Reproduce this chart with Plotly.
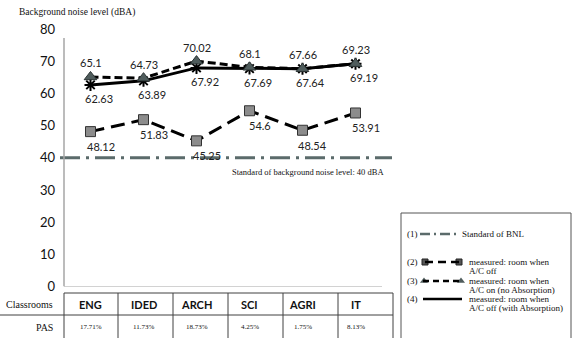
import plotly.graph_objects as go

W, H = 574, 338

# ---------------- data ----------------
categories = ["ENG", "IDED", "ARCH", "SCI", "AGRI", "IT"]
ac_off = [48.12, 51.83, 45.25, 54.6, 48.54, 53.91]              # (2) A/C off
ac_on_no_abs = [65.1, 64.73, 70.02, 68.1, 67.66, 69.23]         # (3) A/C on, no absorption
ac_off_with_abs = [62.63, 63.89, 67.92, 67.69, 67.64, 69.19]    # (4) with absorption
pas = ["17.71%", "11.73%", "18.73%", "4.25%", "1.75%", "8.13%"]
standard_bnl = 40
y_ticks = [0, 10, 20, 30, 40, 50, 60, 70, 80]


def px(x):
    return x / W


def py(y):
    return 1 - y / H


SANS = "Lato, 'Liberation Sans', Arial, sans-serif"
SERIF = "'Liberation Serif', 'Times New Roman', serif"

fig = go.Figure()

# (2) A/C off
fig.add_trace(go.Scatter(
    x=categories, y=ac_off, mode="lines+markers",
    line=dict(color="black", width=3, dash="14px,7px"),
    marker=dict(symbol="square", size=10, color="#8c8c8c",
                line=dict(color="#333333", width=1)),
    showlegend=False, hoverinfo="skip"))
# (4) with absorption
fig.add_trace(go.Scatter(
    x=categories, y=ac_off_with_abs, mode="lines+markers",
    line=dict(color="black", width=3),
    marker=dict(symbol="asterisk-open", size=10,
                line=dict(color="black", width=2)),
    showlegend=False, hoverinfo="skip"))
# (3) A/C on, no absorption
fig.add_trace(go.Scatter(
    x=categories, y=ac_on_no_abs, mode="lines+markers",
    line=dict(color="black", width=3, dash="8px,4px"),
    marker=dict(symbol="triangle-up", size=11, color="#4f5c5c",
                line=dict(color="#2a3333", width=1)),
    showlegend=False, hoverinfo="skip"))

annotations = []
label_font = dict(family=SANS, size=11, color="#222222")
for c, v in zip(categories, ac_on_no_abs):
    annotations.append(dict(x=c, y=v, xref="x", yref="y", text=f"{v:g}",
                            showarrow=False, yshift=14, xshift=0, font=label_font))
for c, v in zip(categories, ac_off_with_abs):
    annotations.append(dict(x=c, y=v, xref="x", yref="y", text=f"{v:g}",
                            showarrow=False, yshift=-14, xshift=8, font=label_font))
for c, v in zip(categories, ac_off):
    annotations.append(dict(x=c, y=v, xref="x", yref="y", text=f"{v:g}",
                            showarrow=False, yshift=-15, xshift=10, font=label_font))

# titles / notes
annotations.append(dict(x=px(17), y=py(13), xref="paper", yref="paper",
                        xanchor="left", yanchor="middle", showarrow=False,
                        text="Background noise level (dBA)",
                        font=dict(family=SERIF, size=9.5, color="#111")))
annotations.append(dict(x=px(230), y=standard_bnl, xref="paper", yref="y",
                        xanchor="left", yanchor="middle", yshift=-14, showarrow=False,
                        text=f"Standard of background noise level: {standard_bnl} dBA",
                        font=dict(family=SERIF, size=8.5, color="#111")))

# table text
annotations.append(dict(x=px(55), y=py(304), xref="paper", yref="paper",
                        xanchor="right", yanchor="middle", showarrow=False,
                        text="Classrooms", font=dict(family=SERIF, size=10, color="#111")))
annotations.append(dict(x=px(55), y=py(327), xref="paper", yref="paper",
                        xanchor="right", yanchor="middle", showarrow=False,
                        text="PAS", font=dict(family=SERIF, size=10, color="#111")))
for c, p in zip(categories, pas):
    annotations.append(dict(x=c, y=py(304), xref="x", yref="paper",
                            yanchor="middle", showarrow=False, text=f"<b>{c}</b>",
                            font=dict(family=SANS, size=11, color="#111")))
    annotations.append(dict(x=c, y=py(327), xref="x", yref="paper",
                            yanchor="middle", showarrow=False, text=p,
                            font=dict(family=SERIF, size=7, color="#111")))

shapes = []
# standard line
shapes.append(dict(type="line", xref="paper", yref="y", x0=px(60), x1=px(392),
                   y0=standard_bnl, y1=standard_bnl,
                   line=dict(color="#5b6b6b", width=3, dash="20px,6px,3px,6px")))
# axis lines
shapes.append(dict(type="line", xref="paper", yref="y", x0=px(64), x1=px(64),
                   y0=0, y1=77.2, line=dict(color="#a6a6a6", width=1.5)))
shapes.append(dict(type="line", xref="paper", yref="y", x0=px(64), x1=px(382),
                   y0=0, y1=0, line=dict(color="#a6a6a6", width=1.2)))
# table lines
tcol = "#404040"
shapes.append(dict(type="line", xref="paper", yref="paper", x0=px(64), x1=px(393),
                   y0=py(293), y1=py(293), line=dict(color=tcol, width=1)))
shapes.append(dict(type="line", xref="paper", yref="paper", x0=px(0), x1=px(393),
                   y0=py(315), y1=py(315), line=dict(color=tcol, width=1)))
for xb in [64, 118, 173, 228, 283, 338, 393]:
    shapes.append(dict(type="line", xref="paper", yref="paper", x0=px(xb), x1=px(xb),
                       y0=py(293), y1=py(340), line=dict(color=tcol, width=1)))

# legend box
shapes.append(dict(type="rect", xref="paper", yref="paper", x0=px(401), x1=px(571),
                   y0=py(213), y1=py(345), line=dict(color="#555555", width=1)))
shapes.append(dict(type="line", xref="paper", yref="paper", x0=px(420), x1=px(460),
                   y0=py(234), y1=py(234),
                   line=dict(color="#5b6b6b", width=2.5, dash="10px,4px,2px,4px")))
shapes.append(dict(type="line", xref="paper", yref="paper", x0=px(425), x1=px(459),
                   y0=py(262), y1=py(262),
                   line=dict(color="black", width=2.5, dash="8px,5px")))
shapes.append(dict(type="line", xref="paper", yref="paper", x0=px(423), x1=px(462),
                   y0=py(281), y1=py(281),
                   line=dict(color="black", width=2.5, dash="6px,4px")))
shapes.append(dict(type="line", xref="paper", yref="paper", x0=px(423), x1=px(462),
                   y0=py(299), y1=py(299),
                   line=dict(color="black", width=2.5)))

# legend markers on overlay axis (pixel coordinates)
fig.add_trace(go.Scatter(x=[425, 459], y=[262, 262], xaxis="x2", yaxis="y2",
                         mode="markers",
                         marker=dict(symbol="square", size=6, color="#555",
                                     line=dict(color="#222", width=1)),
                         showlegend=False, hoverinfo="skip"))
fig.add_trace(go.Scatter(x=[424, 461], y=[281, 281], xaxis="x2", yaxis="y2",
                         mode="markers",
                         marker=dict(symbol="triangle-up", size=7, color="#4f5c5c"),
                         showlegend=False, hoverinfo="skip"))

leg_font = dict(family=SERIF, size=9, color="#111")
leg_items = [
    ("(1)", 234, ["Standard of BNL"], 461),
    ("(2)", 261.5, ["measured: room when", "A/C off"], 468),
    ("(3)", 280.5, ["measured: room when", "A/C on (no Absorption)"], 468),
    ("(4)", 298.5, ["measured: room when", "A/C off (with Absorption)"], 468),
]
for num, yy, lines, xt in leg_items:
    annotations.append(dict(x=px(405), y=py(yy), xref="paper", yref="paper",
                            xanchor="left", yanchor="middle", showarrow=False,
                            text=num, font=leg_font))
    for k, ln in enumerate(lines):
        annotations.append(dict(x=px(xt), y=py(yy + 9.5 * k), xref="paper", yref="paper",
                                xanchor="left", yanchor="middle", showarrow=False,
                                text=ln, font=leg_font, borderpad=0))

fig.update_layout(
    width=W, height=H,
    margin=dict(l=0, r=0, t=0, b=0, pad=0, autoexpand=False),
    paper_bgcolor="white", plot_bgcolor="rgba(0,0,0,0)",
    xaxis=dict(domain=[px(64), px(382)], range=[-0.5, 5.5], type="category",
               categoryorder="array", categoryarray=categories,
               showticklabels=False, showgrid=False, zeroline=False, showline=False,
               ticks="", automargin=False),
    yaxis=dict(domain=[py(286.5), py(29)], range=[0, 80], tickvals=y_ticks,
               showgrid=False, zeroline=False, showline=False, ticks="",
               ticklabelstandoff=8, automargin=False,
               tickfont=dict(family=SANS, size=13, color="#111")),
    xaxis2=dict(domain=[0, 1], range=[0, W], visible=False, automargin=False),
    yaxis2=dict(domain=[0, 1], range=[H, 0], visible=False, automargin=False),
    shapes=shapes, annotations=annotations,
)

fig.write_html(
    "out.html",
    config={"displayModeBar": False},
    post_script="document.body.style.margin='0';document.body.style.padding='0';"
                "document.body.style.overflow='hidden';window.scrollTo(0,0);",
)
